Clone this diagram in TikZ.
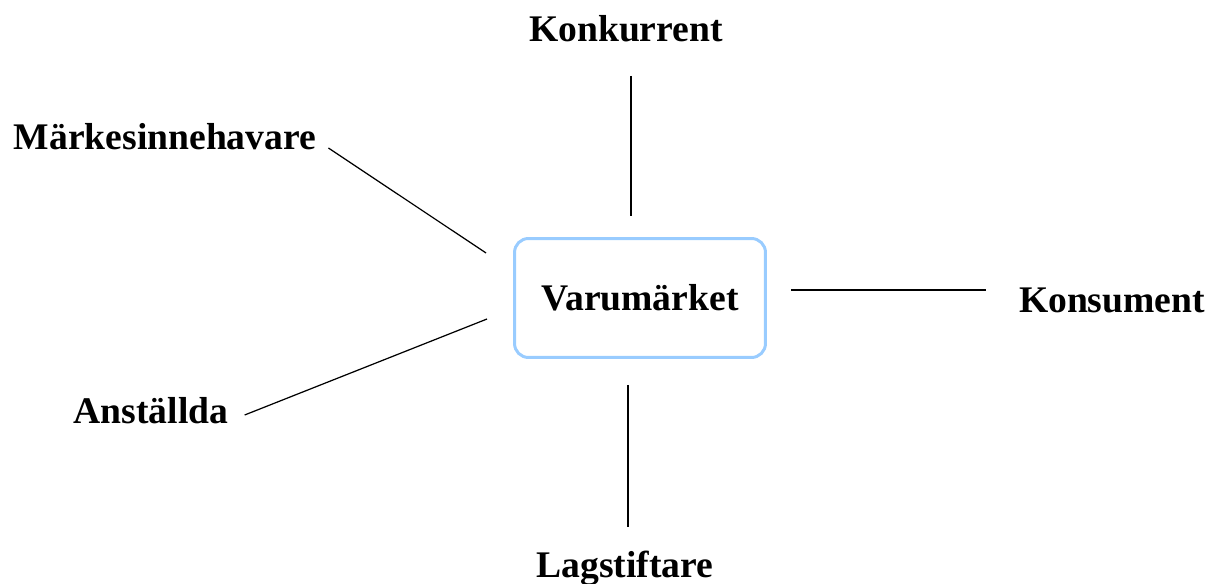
\documentclass[tikz,border=0pt]{standalone}
\usepackage{fontspec}
\setmainfont{Liberation Serif}
\usetikzlibrary{calc,positioning}

\definecolor{boxblue}{RGB}{153,204,255}

\tikzset{
	label/.style={inner sep=0pt, anchor=base, font=\fontsize{21.4}{26}\selectfont\bfseries},
	brand/.style={draw=boxblue, line width=1.7pt, rounded corners=0.28cm,
		minimum width=5.02cm, minimum height=2.38cm, inner sep=0pt,
		font=\fontsize{21.4}{26}\selectfont\bfseries},
	link/.style={black, line width=0.7pt}
}

\begin{document}
\begin{tikzpicture}[x=0.02cm,y=-0.02cm]
	\useasboundingbox (0,0) rectangle (1218,584);

	\node[brand] (box) at (640,298) {Varumärket};

	\node[label] (konk) at (626,42) {Konkurrent};
	\node[label] (mark) at (165,150) {Märkesinnehavare};
	\node[label] (kons) at (1112,313) {Konsument};
	\node[label] (anst) at (151,423) {Anställda};
	\node[label] (lag) at (625,577) {Lagstiftare};

	\draw[link] ($(konk.base)+(5,34)$) -- ($(box.north)+(-9,-21)$);
	\draw[link] ($(box.south)+(-12,26)$) -- ($(lag.base)+(3,-50)$);
	\draw[link] ($(box.east)+(24.5,-8)$) -- ($(kons.base west)+(-33,-23)$);
	\draw[link] ($(mark.base east)+(12,-2)$) -- ($(box.west)+(-27,-45)$);
	\draw[link] ($(anst.base east)+(16,-8)$) -- ($(box.west)+(-26,21)$);
\end{tikzpicture}
\end{document}
